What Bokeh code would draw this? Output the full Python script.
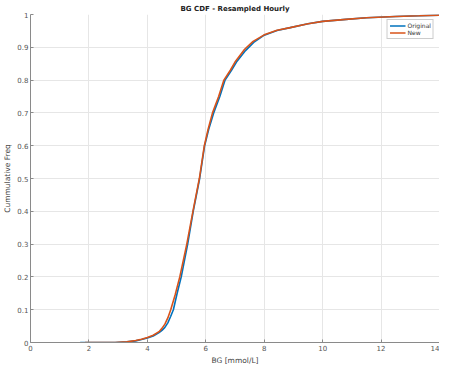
from bokeh.plotting import figure
from bokeh.models import FixedTicker, CustomJSTickFormatter, Legend, LegendItem
from bokeh.embed import file_html
from bokeh.resources import INLINE

orig_bg = [1.70, 2.90, 3.30, 3.60, 3.80, 4.00, 4.20, 4.40, 4.50, 4.60, 4.70, 4.80, 4.89, 5.02,
           5.16, 5.38, 5.57, 5.79, 5.96, 6.10, 6.27, 6.48, 6.66, 6.88, 7.05, 7.36, 7.64, 8.00,
           8.44, 8.89, 9.50, 10.0, 10.8, 11.5, 12.5, 13.3, 14.0]
orig_cdf = [0.000, 0.000, 0.002, 0.005, 0.009, 0.014, 0.020, 0.030, 0.037, 0.046, 0.060, 0.080, 0.100, 0.150,
            0.200, 0.300, 0.400, 0.500, 0.600, 0.650, 0.700, 0.750, 0.800, 0.830, 0.855, 0.890, 0.915, 0.937,
            0.951, 0.960, 0.972, 0.979, 0.985, 0.990, 0.994, 0.996, 0.998]

new_bg = [1.87, 2.90, 3.30, 3.60, 3.80, 4.00, 4.20, 4.40, 4.50, 4.60, 4.70, 4.80, 4.95,
          5.11, 5.35, 5.56, 5.78, 5.95, 6.08, 6.23, 6.44, 6.62, 6.84, 7.00, 7.33, 7.62, 8.00,
          8.44, 8.89, 9.50, 10.0, 10.8, 11.5, 12.5, 13.3, 14.0]
new_cdf = [0.000, 0.000, 0.002, 0.006, 0.010, 0.015, 0.022, 0.033, 0.043, 0.056, 0.075, 0.100, 0.145,
           0.200, 0.300, 0.400, 0.500, 0.600, 0.650, 0.700, 0.750, 0.800, 0.830, 0.855, 0.894, 0.918, 0.938,
           0.952, 0.960, 0.972, 0.979, 0.985, 0.990, 0.994, 0.996, 0.998]

x_ticks = [0, 2, 4, 6, 8, 10, 12, 14]
y_ticks = [0, 0.1, 0.2, 0.3, 0.4, 0.5, 0.6, 0.7, 0.8, 0.9, 1]

FONT = "DejaVu Sans"

p = figure(width=439, height=367, x_range=(0, 14), y_range=(0, 1),
           output_backend="svg", toolbar_location=None,
           title="BG CDF - Resampled Hourly",
           min_border_left=0, min_border_right=0, min_border_top=0, min_border_bottom=0)

p.title.align = "center"
p.title.text_font = FONT
p.title.text_font_size = "7px"
p.title.text_font_style = "bold"
p.title.text_color = "#222222"
p.title.standoff = 4
p.title.offset = 0

p.outline_line_color = None
p.background_fill_color = "white"
p.border_fill_color = "white"

for ax in (p.xaxis[0], p.yaxis[0]):
    ax.axis_line_color = "#8a8a8a"
    ax.major_tick_line_color = "#8a8a8a"
    ax.major_tick_in = 3
    ax.major_tick_out = 0
    ax.minor_tick_line_color = None
    ax.major_label_text_font = FONT
    ax.major_label_text_font_size = "7px"
    ax.major_label_text_color = "#555555"
    ax.axis_label_text_font = FONT
    ax.axis_label_text_font_size = "7.5px"
    ax.axis_label_text_font_style = "normal"
    ax.axis_label_text_color = "#444444"
    ax.major_label_standoff = 2
    ax.axis_label_standoff = 2

p.xaxis.ticker = FixedTicker(ticks=x_ticks)
p.yaxis.ticker = FixedTicker(ticks=y_ticks)
p.xaxis.formatter = CustomJSTickFormatter(code="return String(tick)")
p.yaxis.formatter = CustomJSTickFormatter(code="return String(Math.round(tick*10)/10)")
p.xaxis.axis_label = "BG [mmol/L]"
p.yaxis.axis_label = "Cummulative Freq"

p.xgrid.grid_line_color = "#e6e6e6"
p.ygrid.grid_line_color = "#e6e6e6"
p.xgrid.ticker = FixedTicker(ticks=x_ticks)
p.ygrid.ticker = FixedTicker(ticks=y_ticks)

r1 = p.line(orig_bg, orig_cdf, line_color="#0072BD", line_width=1.6)
r2 = p.line(new_bg, new_cdf, line_color="#D95319", line_width=1.6)

legend = Legend(items=[LegendItem(label="Original", renderers=[r1]),
                       LegendItem(label="New", renderers=[r2])],
                location="top_right")
legend.label_text_font = FONT
legend.label_text_font_size = "6px"
legend.label_text_color = "#333333"
legend.glyph_width = 16
legend.glyph_height = 7
legend.label_height = 7
legend.label_standoff = 2
legend.spacing = 0
legend.padding = 2
legend.margin = 5
legend.border_line_color = "#999999"
legend.border_line_width = 1
legend.background_fill_alpha = 1
p.add_layout(legend)

open("out.html", "w").write(file_html(p, INLINE))
